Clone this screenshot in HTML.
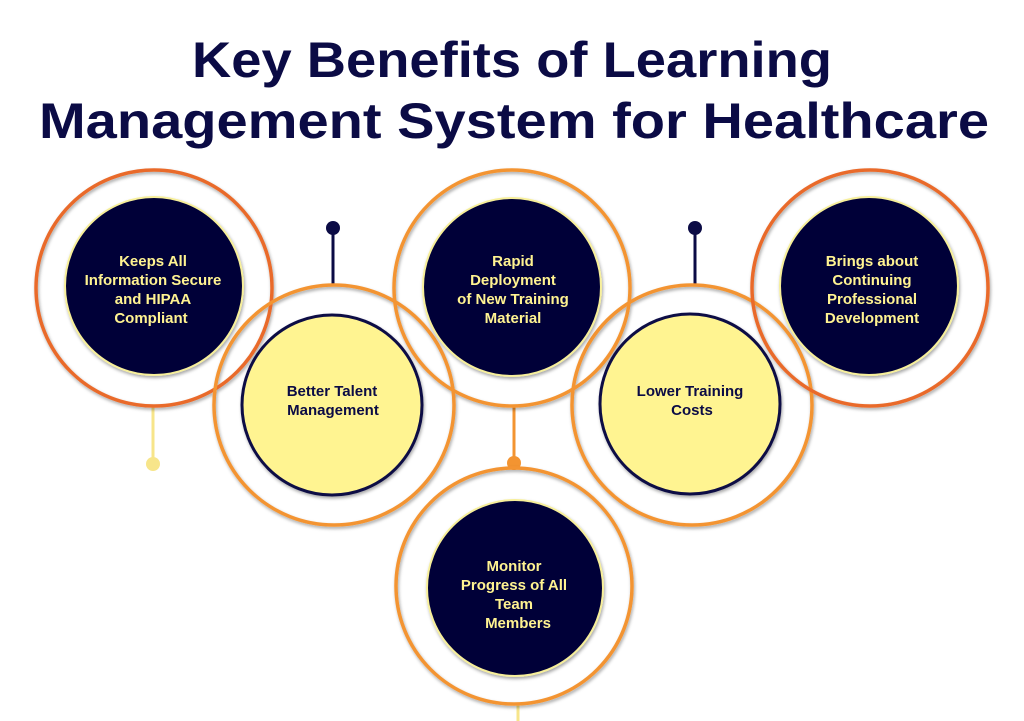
<!DOCTYPE html>
<html><head><meta charset="utf-8"><style>
html,body{margin:0;padding:0;background:#fff;}
svg{display:block;}
text{font-family:"Liberation Sans","DejaVu Sans",sans-serif;font-weight:bold;}
</style></head><body>
<svg width="1024" height="721" viewBox="0 0 1024 721" xmlns="http://www.w3.org/2000/svg">
<defs>
<filter id="sh" x="-20%" y="-20%" width="140%" height="140%"><feDropShadow dx="1" dy="2" stdDeviation="1.5" flood-color="#000" flood-opacity="0.35"/></filter>
</defs>
<rect width="1024" height="721" fill="#fff"/>
<text x="512" y="77" text-anchor="middle" font-size="50" fill="#0b0b45" textLength="640" lengthAdjust="spacingAndGlyphs">Key Benefits of Learning</text>
<text x="514" y="138" text-anchor="middle" font-size="50" fill="#0b0b45" textLength="950" lengthAdjust="spacingAndGlyphs">Management System for Healthcare</text>

<line x1="333" y1="228" x2="333" y2="286" stroke="#0b0b45" stroke-width="3"/>
<circle cx="333" cy="228" r="7" fill="#0b0b45"/>
<line x1="695" y1="228" x2="695" y2="286" stroke="#0b0b45" stroke-width="3"/>
<circle cx="695" cy="228" r="7" fill="#0b0b45"/>
<line x1="153" y1="406" x2="153" y2="464" stroke="#f7e58a" stroke-width="3"/>
<circle cx="153" cy="464" r="7" fill="#f7e58a"/>
<line x1="514" y1="406" x2="514" y2="463" stroke="#f39431" stroke-width="3"/>
<circle cx="514" cy="463" r="7" fill="#f39431"/>
<line x1="518" y1="705" x2="518" y2="721" stroke="#f7e58a" stroke-width="3"/>

<g fill="none" stroke-width="3.5" filter="url(#sh)">
<circle cx="154" cy="288" r="118" stroke="#e96a2a"/>
<circle cx="334" cy="405" r="120" stroke="#f39431"/>
<circle cx="512" cy="288" r="118" stroke="#f39431"/>
<circle cx="692" cy="405" r="120" stroke="#f39431"/>
<circle cx="870" cy="288" r="118" stroke="#e96a2a"/>
<circle cx="514" cy="586" r="118" stroke="#f39431"/>
</g>

<g filter="url(#sh)">
<circle cx="154" cy="286" r="89" fill="#020238" stroke="#f7ef9a" stroke-width="2"/>
<circle cx="332" cy="405" r="90" fill="#fff491" stroke="#0b0b45" stroke-width="3"/>
<circle cx="512" cy="287" r="89" fill="#020238" stroke="#f7ef9a" stroke-width="2"/>
<circle cx="690" cy="404" r="90" fill="#fff491" stroke="#0b0b45" stroke-width="3"/>
<circle cx="869" cy="286" r="89" fill="#020238" stroke="#f7ef9a" stroke-width="2"/>
<circle cx="515" cy="588" r="88" fill="#020238" stroke="#f7ef9a" stroke-width="2"/>
</g>

<g font-size="15" text-anchor="middle" fill="#fff391">
<text x="153" y="266">Keeps All</text>
<text x="153" y="285">Information Secure</text>
<text x="153" y="304">and HIPAA</text>
<text x="151" y="323">Compliant</text>
<text x="513" y="266">Rapid</text>
<text x="513" y="285">Deployment</text>
<text x="513" y="304">of New Training</text>
<text x="513" y="323">Material</text>
<text x="872" y="266">Brings about</text>
<text x="872" y="285">Continuing</text>
<text x="872" y="304">Professional</text>
<text x="872" y="323">Development</text>
<text x="514" y="571">Monitor</text>
<text x="514" y="590">Progress of All</text>
<text x="514" y="609">Team</text>
<text x="518" y="628">Members</text>
</g>
<g font-size="15" text-anchor="middle" fill="#0b0b45">
<text x="332" y="396">Better Talent</text>
<text x="333" y="415">Management</text>
<text x="690" y="396">Lower Training</text>
<text x="692" y="415">Costs</text>
</g>
</svg>
</body></html>
